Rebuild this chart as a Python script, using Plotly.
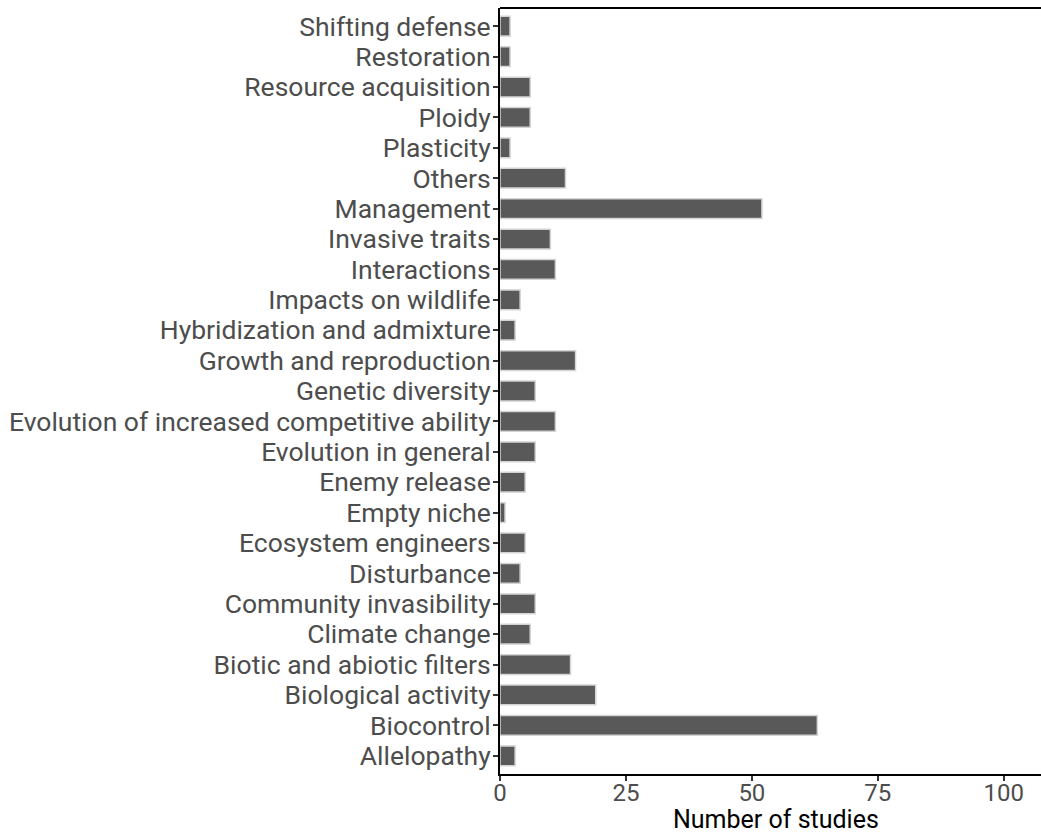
import plotly.graph_objects as go

categories = [
    "Allelopathy", "Biocontrol", "Biological activity", "Biotic and abiotic filters",
    "Climate change", "Community invasibility", "Disturbance", "Ecosystem engineers",
    "Empty niche", "Enemy release", "Evolution in general",
    "Evolution of increased competitive ability", "Genetic diversity",
    "Growth and reproduction", "Hybridization and admixture", "Impacts on wildlife",
    "Interactions", "Invasive traits", "Management", "Others", "Plasticity",
    "Ploidy", "Resource acquisition", "Restoration", "Shifting defense",
]
studies = [3, 63, 19, 14, 6, 7, 4, 5, 1, 5, 7, 11, 7, 15, 3, 4, 11, 10, 52, 13, 2, 6, 6, 2, 2]
x_ticks = [0, 25, 50, 75, 100]

W, H = 1041, 834
L, R, T, B = 500, 0, 8, 60

fig = go.Figure(go.Bar(
    x=studies, y=categories, orientation="h", width=0.65,
    marker=dict(color="#595959", line=dict(color="#d4d4d4", width=1.5)),
))

fig.update_layout(
    width=W, height=H,
    margin=dict(l=L, r=R, t=T, b=B),
    plot_bgcolor="white", paper_bgcolor="white",
    font=dict(family="Roboto", size=26, color="#4d4d4d"),
    showlegend=False,
)
fig.update_xaxes(
    range=[0, 107.4], tickvals=x_ticks, ticks="outside", ticklen=5,
    tickcolor="#333333", tickwidth=1.5, showgrid=False, zeroline=False,
    showline=True, linecolor="black", linewidth=2, mirror=False,
    tickfont=dict(size=24, color="#4d4d4d"), ticklabelstandoff=-9,
)
fig.update_yaxes(
    range=[-0.6, 24.6], categoryorder="array", categoryarray=categories,
    tickmode="array", tickvals=categories, ticktext=categories,
    ticks="outside", ticklen=5, tickcolor="#333333", tickwidth=1.5,
    showgrid=False, zeroline=False, showline=True, linecolor="black",
    linewidth=2, tickfont=dict(size=26.5, color="#4d4d4d"), ticklabelstandoff=-3,
)
# top border of the panel
fig.add_shape(type="line", xref="paper", yref="paper", x0=0, x1=1, y0=1, y1=1,
              line=dict(color="black", width=2))
fig.add_annotation(
    text="Number of studies", xref="paper", yref="paper",
    x=(776 - L) / (W - L - R), y=0, yshift=-(819.5 - (H - B)),
    showarrow=False, xanchor="center", yanchor="middle",
    font=dict(size=25, color="black"),
)

fig.write_html("out.html")
